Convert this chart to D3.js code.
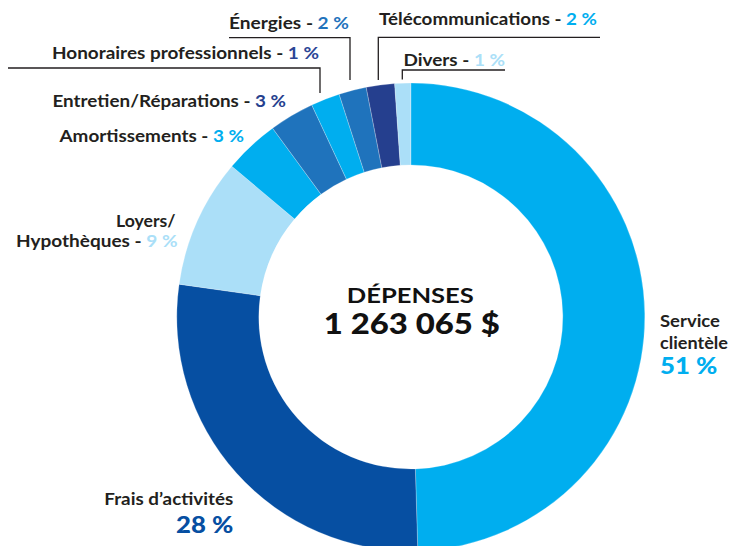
<!DOCTYPE html>
<html><head><meta charset="utf-8">
<script src="https://cdn.jsdelivr.net/npm/d3@7"></script>
<style>
html,body{margin:0;padding:0;background:#fff;}
svg{display:block;font-family:Lato,"Open Sans",sans-serif;}
</style></head>
<body><svg id="c" width="749" height="546"></svg>
<script>
// Data
const categories = ["Service clientèle","Frais d’activités","Loyers/ Hypothèques","Amortissements","Entretien/Réparations","Honoraires professionnels","Énergies","Télécommunications","Divers"];
const shares = [49.5, 27.7, 8.9, 3.8, 3.1, 2.0, 1.9, 1.95, 1.1]; // arc sizes
const pctLabels = ["51 %","28 %","9 %","3 %","3 %","1 %","2 %","2 %","1 %"];
const totalLabel = "1 263 065 $";
const title = "DÉPENSES";

// Styles
const sliceColors = ["#00aeef","#064fa2","#abdff8","#00aeef","#1f73bc","#00aeef","#1f73bc","#253f8e","#abdff8"];
const pctColors   = ["#00aeef","#064fa2","#abdff8","#00aeef","#253f8e","#2b4596","#1f73bc","#00aeef","#abdff8"];
const ink = "#231f20";

const svg = d3.select("#c");
const cx = 410.8, cy = 317, rOut = 234, rIn = 152;

const pie = d3.pie().sort(null).value(d => d).startAngle(0).endAngle(2*Math.PI);
const arc = d3.arc().innerRadius(rIn).outerRadius(rOut);
const g = svg.append("g").attr("transform", `translate(${cx},${cy})`);
g.selectAll("path").data(pie(shares)).join("path")
  .attr("d", arc)
  .attr("fill", (d,i) => sliceColors[i])
  .attr("stroke", "#ffffff").attr("stroke-width", 0.4).attr("stroke-opacity", 0.6);

function fit(sel, w){ return sel.attr("textLength", w).attr("lengthAdjust", "spacingAndGlyphs"); }

// Center text
fit(g.append("text").attr("x", -64).attr("y", -14.5)
  .attr("font-size", 20.5).attr("font-weight", 700).attr("fill", "#111").text(title), 127);
fit(g.append("text").attr("x", -87).attr("y", 17)
  .attr("font-size", 29).attr("font-weight", 900).attr("fill", "#111").text(totalLabel), 176);

// Label layout (positions only)
const inlineLayout = [
  {i:6, x:229, y:28.5, w:120, line:[[229,37.7],[350,37.7],[350,80]]},
  {i:7, x:379, y:25, w:218, line:[[600,37.3],[378.3,37.3],[378.3,80]]},
  {i:5, x:52, y:59, w:267, line:[[8,68],[320,68],[320,93]]},
  {i:8, x:403.5, y:65.5, w:101.5, line:[[505,70],[402.3,70],[402.3,79.5]]},
  {i:4, x:52.5, y:106.5, w:233.5},
  {i:3, x:59.5, y:141.5, w:184.5}
];
const lab = svg.append("g").attr("font-size", 17).attr("font-weight", 700).attr("fill", ink);
inlineLayout.forEach(L => {
  const t = lab.append("text").attr("x", L.x).attr("y", L.y);
  t.append("tspan").text(categories[L.i] + " - ");
  t.append("tspan").attr("fill", pctColors[L.i]).text(pctLabels[L.i]);
  fit(t, L.w);
  if (L.line) {
    svg.append("path").attr("d", d3.line()(L.line)).attr("fill","none")
      .attr("stroke", ink).attr("stroke-width", 1.3);
  }
});

// Loyers/ Hypothèques (two lines, right aligned)
const ly = categories[2].split(" ");
fit(lab.append("text").attr("x", 116).attr("y", 226.5).text(ly[0]), 59.5);
const t2 = lab.append("text").attr("x", 16).attr("y", 246.5);
t2.append("tspan").text(ly[1] + " - ");
t2.append("tspan").attr("fill", pctColors[2]).text(pctLabels[2]);
fit(t2, 161.5);

// Frais d'activités
fit(lab.append("text").attr("x", 104.3).attr("y", 505).text(categories[1]), 129);
fit(lab.append("text").attr("x", 176).attr("y", 532.5)
  .attr("font-size", 23).attr("font-weight", 900).attr("fill", pctColors[1]).text(pctLabels[1]), 57.3);

// Service clientèle
const sv = categories[0].split(" ");
fit(lab.append("text").attr("x", 660).attr("y", 326.5).text(sv[0]), 60);
fit(lab.append("text").attr("x", 660).attr("y", 348.5).text(sv[1]), 68);
fit(lab.append("text").attr("x", 660).attr("y", 374).attr("font-size", 23).attr("font-weight", 900)
  .attr("fill", pctColors[0]).text(pctLabels[0]), 57.3);
</script></body></html>
